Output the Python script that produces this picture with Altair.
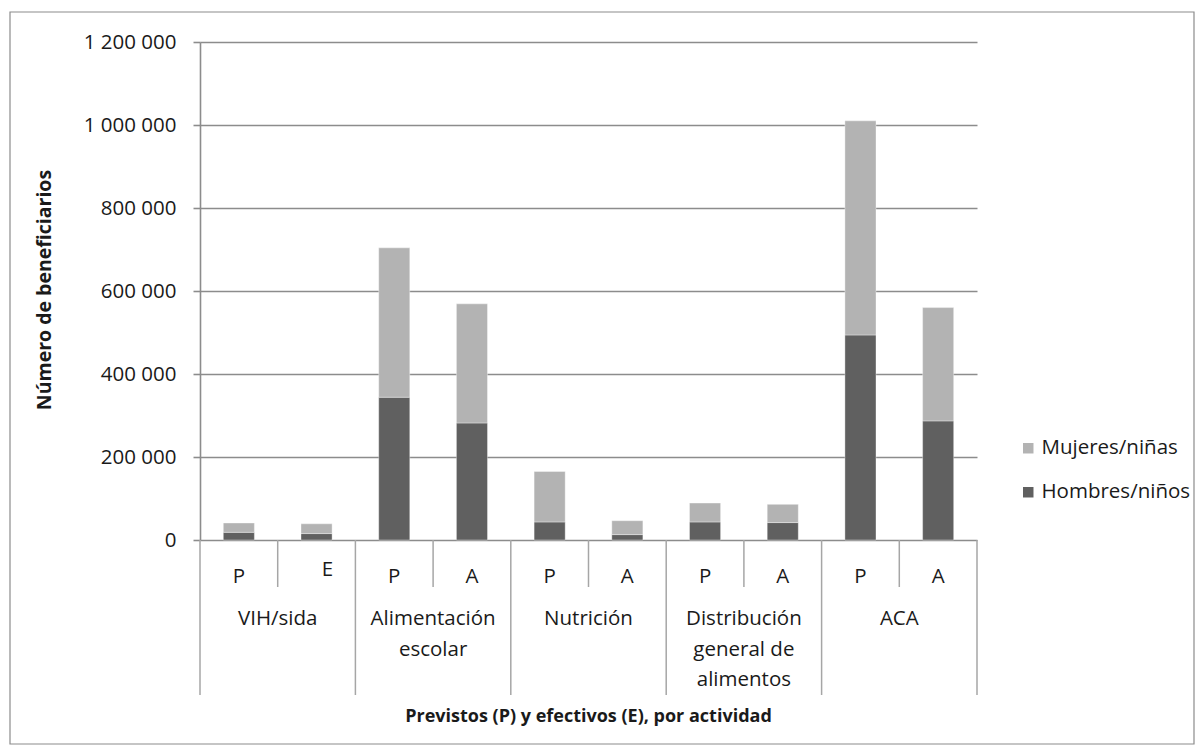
import altair as alt
import pandas as pd

# ---- data ----
grupos = ["VIH/sida", "Alimentación\nescolar", "Nutrición",
          "Distribución\ngeneral de\nalimentos", "ACA"]
subetiquetas = ["P", "E", "P", "A", "P", "A", "P", "A", "P", "A"]
hombres = [18500, 15500, 344000, 282000, 43500, 13000, 43500, 42000, 494000, 287000]
mujeres = [22500, 23500, 360000, 287000, 121500, 33500, 45500, 44000, 516000, 273000]
serie_nombres = ["Mujeres/niñas", "Hombres/niños"]
serie_colores = ["#b3b3b3", "#606060"]
y_ticks = [0, 200000, 400000, 600000, 800000, 1000000, 1200000]

FONT = "Open Sans"
TXT = "#1a1a1a"
GRID = "#8c8c8c"
LINE = "#a6a6a6"
W, H = 777, 498
FS = 20.5

# ---- tables ----
rows = []
for i in range(len(subetiquetas)):
    rows.append(dict(idx=i, sexo="Hombres/niños", y0=0, y1=hombres[i]))
    rows.append(dict(idx=i, sexo="Mujeres/niñas", y0=hombres[i], y1=hombres[i] + mujeres[i]))
bars_df = pd.DataFrame(rows)

sub_df = pd.DataFrame({"idx": list(range(len(subetiquetas))), "lab": subetiquetas})
grp_df = pd.DataFrame({"g": list(range(len(grupos))), "lab": grupos})
bnd_df = pd.DataFrame({"b": list(range(len(subetiquetas) + 1))})
one = pd.DataFrame({"a": [0]})

xscale = alt.Scale(domain=[0, len(subetiquetas)], nice=False, zero=False)

border = alt.Chart(one).mark_rect(fill=None, stroke="#8c8c8c", strokeWidth=1.2).encode(
    x=alt.value(-190), x2=alt.value(994), y=alt.value(-30), y2=alt.value(702)
)

bars = alt.Chart(bars_df).transform_calculate(
    xa="datum.idx + 0.3", xb="datum.idx + 0.7"
).mark_bar(stroke="#ffffff", strokeWidth=0.6, strokeOpacity=0.6).encode(
    x=alt.X("xa:Q", scale=xscale, axis=None),
    x2="xb:Q",
    y=alt.Y("y1:Q",
            scale=alt.Scale(domain=[0, 1200000], nice=False),
            axis=alt.Axis(values=y_ticks, grid=True, gridColor=GRID, gridWidth=1.6,
                          domainColor=GRID, domainWidth=1.6, tickColor=GRID, tickSize=7,
                          tickWidth=1.6, labelFont=FONT, labelFontSize=FS, labelColor=TXT,
                          labelPadding=17, title=None,
                          labelExpr="replace(format(datum.value, ',d'), /,/g, ' ')")),
    y2="y0:Q",
    color=alt.Color("sexo:N",
                    scale=alt.Scale(domain=serie_nombres, range=serie_colores),
                    legend=alt.Legend(title=None, orient="none", legendX=818, legendY=396,
                                      symbolType="square", symbolSize=110, symbolStrokeWidth=0,
                                      labelFont=FONT, labelFontSize=FS, labelColor=TXT,
                                      rowPadding=23, labelOffset=3)),
)

seps_short = alt.Chart(bnd_df).transform_filter("datum.b % 2 == 1").mark_rule(
    color=LINE, strokeWidth=1.5).encode(
    x=alt.X("b:Q", scale=xscale), y=alt.value(H), y2=alt.value(545))
seps_long = alt.Chart(bnd_df).transform_filter("datum.b % 2 == 0").mark_rule(
    color=LINE, strokeWidth=1.5).encode(
    x=alt.X("b:Q", scale=xscale), y=alt.value(H), y2=alt.value(653))

sub_text = alt.Chart(sub_df).transform_filter("datum.idx != 1").transform_calculate(
    xc="datum.idx + 0.5"
).mark_text(font=FONT, fontSize=FS, color=TXT, baseline="middle").encode(
    x=alt.X("xc:Q", scale=xscale), y=alt.value(535), text="lab:N")

sub_text_e = alt.Chart(sub_df).transform_filter("datum.idx == 1").transform_calculate(
    xc="datum.idx + 0.5"
).mark_text(font=FONT, fontSize=FS, color=TXT, baseline="middle", dx=11, dy=-7).encode(
    x=alt.X("xc:Q", scale=xscale), y=alt.value(535), text="lab:N")

grp_text = alt.Chart(grp_df).transform_calculate(
    xc="datum.g * 2 + 1"
).mark_text(font=FONT, fontSize=FS, color=TXT, baseline="top", lineBreak="\n",
            lineHeight=30.5, align="center").encode(
    x=alt.X("xc:Q", scale=xscale), y=alt.value(567), text="lab:N")

x_title = alt.Chart(one).mark_text(
    text="Previstos (P) y efectivos (E), por actividad", font=FONT, fontSize=18,
    fontWeight="bold", color=TXT, baseline="middle", align="center"
).encode(x=alt.value(W / 2), y=alt.value(675))

y_title = alt.Chart(one).mark_text(
    text="Número de beneficiarios", font=FONT, fontSize=19.5, fontWeight="bold",
    color=TXT, baseline="middle", align="center", angle=270
).encode(x=alt.value(-155), y=alt.value(248))

chart = alt.layer(
    border, bars, seps_short, seps_long, sub_text, sub_text_e, grp_text, x_title, y_title
).properties(
    width=W, height=H,
    autosize=alt.AutoSizeParams(type="none"),
    padding={"left": 200, "top": 42, "right": 227, "bottom": 213},
    background="#ffffff",
).configure_view(stroke=None)

chart.save("out.html", embed_options={"renderer": "svg", "actions": False})
